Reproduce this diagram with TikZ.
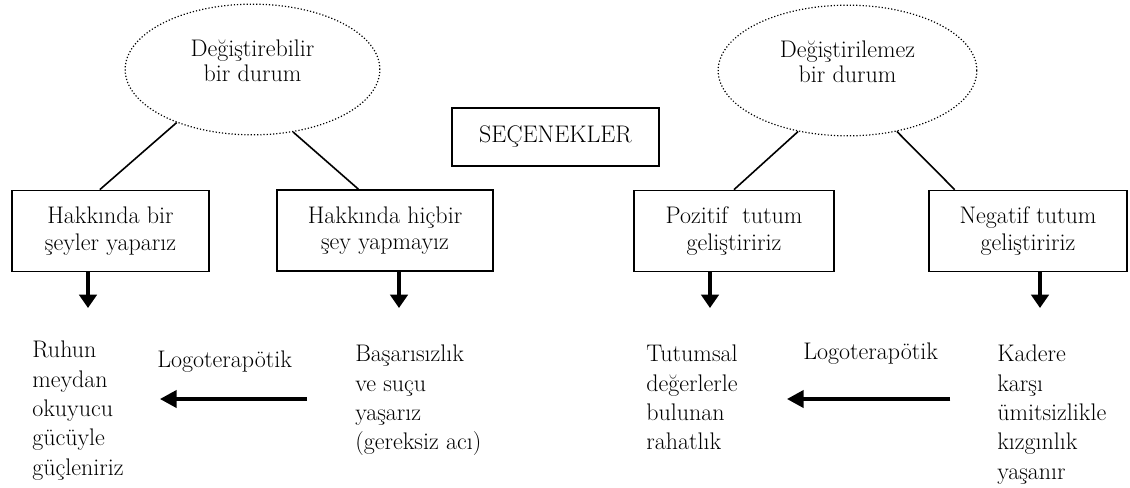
\documentclass[tikz,border=0pt]{standalone}
\usepackage{tikz}
\usetikzlibrary{%
    shapes,
    arrows.meta,
    positioning
}

\begin{document}
\begin{tikzpicture}[x=0.75pt, y=-0.75pt,
                situation/.style={ellipse, draw, dash pattern=on 0.9pt off 1.5pt, line width=0.9pt, minimum width=191pt, minimum height=98pt, inner sep=0pt},
                caption/.style={align=center, font=\fontsize{18}{19}\selectfont},
                choice/.style={rectangle, draw, line width=1.1pt, minimum height=61pt, text centered, align=center, font=\fontsize{18}{20}\selectfont},
                result/.style={anchor=north west, inner sep=0pt, align=left, font=\fontsize{18}{22}\selectfont},
                link/.style={draw, line width=1.2pt},
                down_flow/.style={draw, line width=3.2pt, -{Triangle[width=13pt,length=10pt]}},
                back_flow/.style={draw, line width=2.4pt, -{Triangle[width=13pt,length=12.5pt]}}
            ]
            \useasboundingbox (0,0) rectangle (1130,487);

            \node (changeable) at (252.5,69.5) [situation, label={[caption, yshift=6.5pt]center:{Değiştirebilir\\bir durum}}] {};
            \node (unchangeable) at (847.5,70.5) [situation, minimum width=194pt, label={[caption, yshift=6.5pt]center:{Değiştirilemez\\bir durum}}] {};

            \node (options) at (555.5,137) [choice, minimum width=155pt, minimum height=43.5pt] {SEÇENEKLER};

            \node (dosome) at (110.5,231) [choice, minimum width=148pt] {Hakkında bir\\şeyler yaparız};
            \node (donothing) at (385,230.5) [choice, minimum width=162pt] {Hakkında hiçbir\\şey yapmayız};
            \node (positive) at (734,231) [choice, minimum width=150pt] {Pozitif~ tutum\\geliştiririz};
            \node (negative) at (1028,231) [choice, minimum width=148.5pt] {Negatif tutum\\geliştiririz};

            \node (strength) at (32,341) [result] {Ruhun\\meydan\\okuyucu\\gücüyle\\güçleniriz};
            \node (logo1) at (157,351) [result] {Logoterapötik};
            \node (failure) at (355,345) [result] {Başarısızlık\\ve suçu\\yaşarız\\(gereksiz acı)};
            \node (comfort) at (646,345) [result] {Tutumsal\\değerlerle\\bulunan\\rahatlık};
            \node (logo2) at (803,343) [result] {Logoterapötik};
            \node (despair) at (997,345) [result] {Kadere\\karşı\\ümitsizlikle\\kızgınlık\\yaşanır};

            \coordinate (down1) at (88,308);
            \coordinate (down2) at (399,308);
            \coordinate (down3) at (710,308);
            \coordinate (down4) at (1040,308);
            \coordinate (tip1) at (160,399);
            \coordinate (tip2) at (787,399);

            \draw [link] (changeable.215) -- ([xshift=-8pt]dosome.north);
            \draw [link] (changeable.303) -- ([xshift=-20pt]donothing.north);
            \draw [link] (unchangeable.231) -- (positive.north);
            \draw [link] (unchangeable.309) -- ([xshift=-55pt]negative.north);

            \draw [down_flow] (dosome.south -| down1) -- (down1);
            \draw [down_flow] (donothing.south -| down2) -- (down2);
            \draw [down_flow] (positive.south -| down3) -- (down3);
            \draw [down_flow] (negative.south -| down4) -- (down4);

            \draw [back_flow, shorten <=36pt] (failure.west |- tip1) -- (tip1);
            \draw [back_flow, shorten <=35pt] (despair.west |- tip2) -- (tip2);
        \end{tikzpicture}
\end{document}
